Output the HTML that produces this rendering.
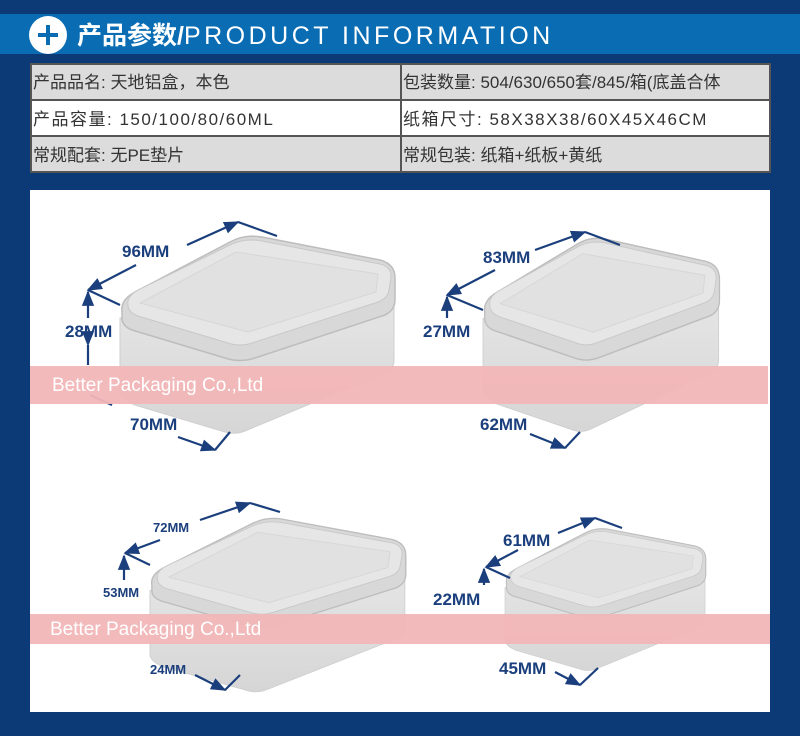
<!DOCTYPE html>
<html><head><meta charset="utf-8"><style>
html,body{margin:0;padding:0;width:800px;height:736px;overflow:hidden;background:#0c3a77}
</style></head><body>
<svg width="800" height="736" xmlns="http://www.w3.org/2000/svg" font-family="'Liberation Sans','Noto Sans CJK SC',sans-serif">
<defs>
<marker id="a" viewBox="0 0 10 10" refX="9" refY="5" markerWidth="7" markerHeight="7" orient="auto"><path d="M0,1 L10,5 L0,9 Z" fill="#1b3f7c"/></marker>
<linearGradient id="g" x1="0" y1="0" x2="0" y2="1"><stop offset="0" stop-color="#e6e6e6"/><stop offset="1" stop-color="#d6d6d6"/></linearGradient>
<g id="box">
<path d="M120,318 L120,392 Q122,400 135,405 L225,432 Q235,435 245,431 L387,372 Q394,368 394,360 L394,290 Z" fill="url(#g)" stroke="#cfcfcf"/>
<path d="M122,312 Q120,300 135,292 L230,242 Q245,234 262,237 L380,260 Q395,264 395,278 L395,300 Q395,310 385,315 L255,358 Q240,363 225,358 L132,330 Q122,326 122,318 Z" fill="#d8d8d8" stroke="#bdbdbd" stroke-width="1.5"/>
<path d="M128,305 Q126,296 140,289 L232,244 Q246,238 262,241 L380,264 Q392,267 391,278 L389,290 Q388,298 378,302 L252,343 Q240,347 228,343 L138,316 Q128,312 128,305 Z" fill="#e6e6e6" stroke="#c8c8c8"/>
<path d="M140,303 L236,252 L378,274 L376,292 L248,332 Z" fill="#e1e1e1" stroke="#d6d6d6" stroke-linejoin="round"/>
</g>
</defs>
<rect x="0" y="14" width="800" height="40" fill="#0a6db4"/>
<circle cx="48" cy="35" r="19" fill="#fff"/>
<path d="M48,25 V45 M38,35 H58" stroke="#0a6db4" stroke-width="4"/>
<text x="77" y="44" fill="#fff" font-size="25" font-weight="bold">产品参数/<tspan letter-spacing="3.5" font-weight="normal">PRODUCT INFORMATION</tspan></text>
<rect x="31" y="64" width="739" height="108" fill="#dcdcdc" stroke="#555" stroke-width="2"/>
<rect x="31" y="100" width="739" height="36" fill="#fff" stroke="#555" stroke-width="2"/>
<line x1="401" y1="64" x2="401" y2="172" stroke="#555" stroke-width="2"/>
<g font-size="17" fill="#333">
<text x="33" y="88">产品品名: 天地铝盒，本色</text>
<text x="403" y="88">包装数量: 504/630/650套/845/箱(底盖合体</text>
<text x="33" y="125" letter-spacing="1.5">产品容量: 150/100/80/60ML</text>
<text x="403" y="125" letter-spacing="1.5">纸箱尺寸: 58X38X38/60X45X46CM</text>
<text x="33" y="161">常规配套: 无PE垫片</text>
<text x="403" y="161">常规包装: 纸箱+纸板+黄纸</text>
</g>
<rect x="30" y="190" width="740" height="522" fill="#fff"/>
<use href="#box"/>
<use href="#box" transform="translate(483,240) scale(0.86,0.98) translate(-120,-238)"/>
<use href="#box" transform="translate(150,520) scale(0.93,0.88) translate(-120,-238)"/>
<use href="#box" transform="translate(505,530) scale(0.73,0.72) translate(-120,-238)"/>
<g stroke="#1b3f7c" stroke-width="2.2" fill="none">
<path d="M187,245 L238,222" marker-end="url(#a)"/><path d="M238,222 L277,236"/>
<path d="M136,265 L88,290" marker-end="url(#a)"/><path d="M88,290 L120,305"/>
<path d="M88,318 L88,292" marker-end="url(#a)"/><path d="M88,345 L88,365" marker-start="url(#a)"/>
<path d="M112,405 L90,395"/><path d="M178,437 L215,450" marker-end="url(#a)"/><path d="M215,450 L230,432"/>
<path d="M535,250 L585,232" marker-end="url(#a)"/><path d="M585,232 L620,245"/>
<path d="M495,270 L447,295" marker-end="url(#a)"/><path d="M447,295 L483,310"/>
<path d="M447,318 L447,297" marker-end="url(#a)"/>
<path d="M530,434 L565,448" marker-end="url(#a)"/><path d="M565,448 L580,432"/>
<path d="M200,520 L250,503" marker-end="url(#a)"/><path d="M250,503 L280,512"/>
<path d="M160,540 L125,553" marker-end="url(#a)"/><path d="M125,553 L150,565"/>
<path d="M124,580 L124,556" marker-end="url(#a)"/>
<path d="M195,675 L225,690" marker-end="url(#a)"/><path d="M225,690 L240,675"/>
<path d="M558,533 L595,518" marker-end="url(#a)"/><path d="M595,518 L622,528"/>
<path d="M518,550 L486,567" marker-end="url(#a)"/><path d="M486,567 L510,578"/>
<path d="M484,585 L484,569" marker-end="url(#a)"/>
<path d="M555,672 L580,685" marker-end="url(#a)"/><path d="M580,685 L598,668"/>
</g>
<g fill="#1b3f7c" font-weight="bold" font-size="17">
<text x="122" y="257">96MM</text>
<text x="65" y="337">28MM</text>
<text x="130" y="430">70MM</text>
<text x="483" y="263">83MM</text>
<text x="423" y="337">27MM</text>
<text x="480" y="430">62MM</text>
<text x="153" y="532" font-size="13">72MM</text>
<text x="103" y="597" font-size="13">53MM</text>
<text x="150" y="674" font-size="13">24MM</text>
<text x="503" y="546">61MM</text>
<text x="433" y="605">22MM</text>
<text x="499" y="674">45MM</text>
</g>
<rect x="30" y="366" width="738" height="38" fill="#f2b6b8" opacity="0.95"/>
<text x="52" y="391" fill="#fff" font-size="19">Better Packaging Co.,Ltd</text>
<rect x="30" y="614" width="740" height="30" fill="#f2b6b8" opacity="0.95"/>
<text x="50" y="635" fill="#fff" font-size="19">Better Packaging Co.,Ltd</text>
</svg>
</body></html>
